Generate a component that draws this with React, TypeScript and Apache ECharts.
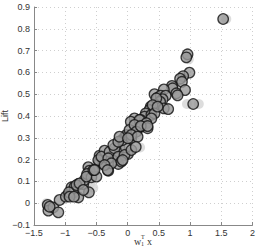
import React, { useEffect, useRef } from "react";
import * as echarts from "echarts";

const xTicks = [-1.5, -1, -0.5, 0, 0.5, 1, 1.5, 2];
const yTicks = [-0.1, 0, 0.1, 0.2, 0.3, 0.4, 0.5, 0.6, 0.7, 0.8, 0.9];

const mainPoints: number[][] = [
  [1.53, 0.845], [0.96, 0.683], [0.94, 0.669], [0.99, 0.599], [0.89, 0.583], [0.84, 0.571],
  [0.87, 0.557], [0.92, 0.519], [0.71, 0.538], [0.72, 0.527], [0.78, 0.504], [0.8, 0.495],
  [0.58, 0.522], [0.43, 0.5], [0.48, 0.484], [0.53, 0.493], [0.61, 0.493], [0.56, 0.477],
  [0.52, 0.466], [0.45, 0.451], [0.58, 0.435], [0.65, 0.432], [0.37, 0.443], [0.35, 0.428],
  [0.29, 0.412], [0.27, 0.397], [0.11, 0.389], [0.05, 0.374], [0.21, 0.382], [0.38, 0.405],
  [1.05, 0.455],
  [-1.28, -0.008], [-1.27, -0.034], [-1.19, -0.019], [-1.11, -0.042], [-1.09, 0.015],
  [-0.95, 0.039], [-0.9, 0.073], [-0.85, 0.076], [-0.79, 0.088], [-0.86, 0.05], [-0.79, 0.027],
  [-0.71, 0.088], [-0.69, 0.106], [-0.62, 0.05], [-0.63, 0.165], [-0.61, 0.149], [-0.65, 0.134],
  [-0.58, 0.119], [-0.5, 0.122], [-0.45, 0.188], [-0.45, 0.218], [-0.37, 0.241], [-0.39, 0.18],
  [-0.31, 0.149], [-0.29, 0.211], [-0.21, 0.233], [-0.23, 0.195], [-0.15, 0.18], [-0.13, 0.256],
  [-0.1, 0.287], [-0.05, 0.302], [0.005, 0.226], [-0.03, 0.256],
  [-1.25, -0.016], [-0.99, 0.03], [-0.94, 0.05], [-0.82, 0.083], [-0.77, 0.091], [-0.93, 0.03],
  [-0.66, 0.122], [-0.55, 0.152], [-0.71, 0.061], [-0.86, 0.03],
  [-0.47, 0.198], [-0.42, 0.213], [-0.29, 0.236], [-0.21, 0.252], [-0.08, 0.29], [-0.02, 0.313],
  [0.03, 0.336], [-0.31, 0.206], [-0.15, 0.213], [-0.05, 0.221], [-0.26, 0.183], [-0.53, 0.152],
  [-0.1, 0.191], [-0.37, 0.175], [-0.23, 0.267], [0.06, 0.298], [-0.15, 0.282],
  [0.46, 0.481], [0.4, 0.45], [0.19, 0.382], [0.11, 0.359], [-0.13, 0.305], [0.43, 0.412],
  [0.38, 0.389], [0.3, 0.367], [0.22, 0.351], [0.14, 0.328], [0.06, 0.313], [0.48, 0.443],
  [0.32, 0.344], [0.16, 0.305], [0.005, 0.298], [0.06, 0.244], [0.13, 0.258], [-0.08, 0.198],
  [-0.32, 0.152], [0.21, 0.354], [0.32, 0.354],
];

const shadowPoints: number[][] = [
  [1.58, 0.845], [0.95, 0.455], [1.14, 0.455], [0.2, 0.256], [0.98, 0.66], [-0.6, 0.09],
  [-0.7, 0.05], [-0.35, 0.2], [-0.5, 0.19], [0.1, 0.33], [-1.3, 0.0], [-0.55, 0.07],
];

const fmt = (v: number) => {
  const s = String(Math.round(v * 100) / 100);
  return s.replace("-", "\u2212");
};

export default function App() {
  const ref = useRef<HTMLDivElement>(null);
  useEffect(() => {
    if (!ref.current) return;
    const chart = echarts.init(ref.current, null, { renderer: "svg" });
    const font = "Liberation Sans, Arial, sans-serif";
    chart.setOption({
      animation: false,
      backgroundColor: "#fff",
      grid: { left: 34, top: 7, width: 219, height: 218, containLabel: false },
      xAxis: {
        type: "value",
        min: xTicks[0],
        max: xTicks[xTicks.length - 1],
        interval: 0.5,
        axisLine: { show: true, onZero: false, lineStyle: { color: "#888", width: 1 } },
        axisTick: { show: true, inside: true, length: 3, lineStyle: { color: "#888" } },
        axisLabel: { fontSize: 9, color: "#333", fontFamily: font, margin: 3, formatter: fmt },
        splitLine: { show: true, lineStyle: { color: "#cfcfcf", type: [1, 3], width: 1 } },
      },
      yAxis: {
        type: "value",
        min: yTicks[0],
        max: yTicks[yTicks.length - 1],
        interval: 0.1,
        axisLine: { show: true, onZero: false, lineStyle: { color: "#888", width: 1 } },
        axisTick: { show: true, inside: true, length: 3, lineStyle: { color: "#888" } },
        axisLabel: { fontSize: 9, color: "#333", fontFamily: font, margin: 4, formatter: fmt },
        splitLine: { show: true, lineStyle: { color: "#cfcfcf", type: [1, 3], width: 1 } },
      },
      graphic: [
        {
          type: "text",
          x: 5,
          y: 116,
          rotation: Math.PI / 2,
          style: { text: "Lift", fill: "#333", font: "9px Liberation Sans, Arial, sans-serif", align: "center", verticalAlign: "middle" },
        },
        { type: "text", x: 134, y: 241, style: { text: "w", font: "10px Liberation Serif, serif", fill: "#333", verticalAlign: "middle" } },
        { type: "text", x: 141, y: 237, style: { text: "T", font: "6px Liberation Serif, serif", fill: "#333", verticalAlign: "middle" } },
        { type: "text", x: 141, y: 244, style: { text: "1", font: "6px Liberation Serif, serif", fill: "#333", verticalAlign: "middle" } },
        { type: "text", x: 147, y: 241, style: { text: "x", font: "10px Liberation Serif, serif", fill: "#333", verticalAlign: "middle" } },
      ],
      series: [
        {
          type: "scatter",
          data: shadowPoints,
          symbol: "circle",
          symbolSize: 10,
          itemStyle: { color: "#d4d4d4", opacity: 0.8 },
          silent: true,
        },
        {
          type: "scatter",
          data: mainPoints,
          symbol: "circle",
          symbolSize: 10.5,
          itemStyle: { color: "#999", borderColor: "#111", borderWidth: 1.3 },
        },
      ],
    });
    return () => chart.dispose();
  }, []);
  return <div ref={ref} style={{ position: "fixed", left: 0, top: 0, width: 258, height: 249 }} />;
}
